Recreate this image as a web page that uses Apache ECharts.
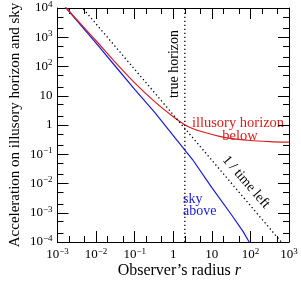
<!DOCTYPE html>
<html><head><meta charset="utf-8">
<script src="https://cdn.jsdelivr.net/npm/echarts@6/dist/echarts.min.js"></script>
<style>html,body{margin:0;padding:0;background:#fff}#c{width:301px;height:284px}</style>
</head><body><div id="c"></div>
<script>
// ---- data ----
const skyR = [0.001, 0.00168, 0.01, 0.0316, 0.1, 0.335, 1, 3.16, 10, 31.6, 63, 93, 100];
const skyA = [22400, 10000, 631, 102, 16.6, 2.63, 0.437, 0.066, 0.0072, 0.00089, 0.00024, 0.0001, 0.00007];
const illR = [0.001, 0.00168, 0.01, 0.0316, 0.1, 0.335, 1, 1.88, 3.16, 5.96, 15.8, 31.6, 100, 316, 1000];
const illA = [22900, 10000, 759, 138, 27.5, 6.17, 1.9, 1.07, 0.76, 0.575, 0.41, 0.347, 0.295, 0.272, 0.26];
const timeR = [0.001, 1, 1000];
const timeA = [102000, 2.24, 0.000049];
const horizonR = [2, 2];
const horizonA = [0.0001, 10000];
const xTicks = [0.001, 0.01, 0.1, 1, 10, 100, 1000];
const xTickLabels = ['10{s|−3}', '10{s|−2}', '10{s|−1}', '1', '10', '10{s|2}', '10{s|3}'];
const yTicks = [0.0001, 0.001, 0.01, 0.1, 1, 10, 100, 1000, 10000];
const yTickLabels = ['10{s|−4}', '10{s|−3}', '10{s|−2}', '10{s|−1}', '1', '10', '10{s|2}', '10{s|3}', '10{s|4}'];

const FONT = 'Liberation Serif';
function minorOf(ticks) {
  const out = [];
  ticks.slice(0, -1).forEach(t => { out.push(t * 2, t * 5); });
  return out;
}
function labelFmt(ticks, labels) {
  return function (v) {
    let best = 0;
    ticks.forEach((t, i) => { if (Math.abs(Math.log10(t) - Math.log10(v)) < Math.abs(Math.log10(ticks[best]) - Math.log10(v))) best = i; });
    return labels[best];
  };
}
const rich = { s: { fontSize: 9, fontFamily: FONT, color: '#000', verticalAlign: 'top', lineHeight: 9 } };
function axis(dim, pos, ticks, labels, major, showLine, extra) {
  const a = {
    type: 'log', logBase: 10, position: pos,
    min: ticks[0], max: ticks[ticks.length - 1],
    splitLine: { show: false },
    axisLine: { show: showLine, onZero: false, lineStyle: { color: '#000', width: 1 } },
    axisTick: { show: true, inside: true, length: major ? 11 : 6, lineStyle: { color: '#000', width: 1 },
      customValues: major ? ticks : minorOf(ticks) },
    axisLabel: { show: false },
    axisPointer: { show: false }
  };
  if (labels) {
    a.axisLabel = { show: true, customValues: ticks, formatter: labelFmt(ticks, labels),
      fontFamily: FONT, fontSize: 13, lineHeight: 16, color: '#000', margin: 5, rich: rich };
  }
  return Object.assign(a, extra || {});
}
const chart = echarts.init(document.getElementById('c'), null, { renderer: 'canvas' });
chart.setOption({
  animation: false,
  backgroundColor: '#fff',
  grid: { left: 49, top: 8, width: 240, height: 240, containLabel: false },
  xAxis: [
    axis('x', 'bottom', xTicks, xTickLabels, true, true, {
      name: 'Observer’s radius {i|r}', nameLocation: 'middle', nameGap: 29, nameMoveOverlap: false,
      nameTextStyle: { fontFamily: FONT, fontSize: 16, color: '#000', verticalAlign: 'middle', padding: [0, 0, 0, 12],
        rich: { i: { fontFamily: FONT, fontSize: 16, fontStyle: 'italic', color: '#000' } } } }),
    axis('x', 'bottom', xTicks, null, false, false),
    axis('x', 'top', xTicks, null, true, true),
    axis('x', 'top', xTicks, null, false, false)
  ],
  yAxis: [
    axis('y', 'left', yTicks, yTickLabels, true, true, {
      name: 'Acceleration on illusory horizon and sky', nameLocation: 'middle', nameGap: 42, nameMoveOverlap: false,
      nameTextStyle: { fontFamily: FONT, fontSize: 15, color: '#000', verticalAlign: 'middle' } }),
    axis('y', 'left', yTicks, null, false, false),
    axis('y', 'right', yTicks, null, true, true),
    axis('y', 'right', yTicks, null, false, false)
  ],
  series: [
    { type: 'line', name: 'sky above', data: skyR.map((r, i) => [r, skyA[i]]), showSymbol: false, symbol: 'none',
      lineStyle: { color: '#1a1adc', width: 1.2 }, clip: true, xAxisIndex: 0, yAxisIndex: 0 },
    { type: 'line', name: 'illusory horizon below', data: illR.map((r, i) => [r, illA[i]]), showSymbol: false, symbol: 'none',
      smooth: 0.3, lineStyle: { color: '#d81e1e', width: 1.2 }, clip: true, xAxisIndex: 0, yAxisIndex: 0 },
    { type: 'line', name: '1 / time left', data: timeR.map((r, i) => [r, timeA[i]]), showSymbol: false, symbol: 'none',
      lineStyle: { color: '#000', width: 1.3, type: [1.3, 2.7] }, clip: true, xAxisIndex: 0, yAxisIndex: 0 },
    { type: 'line', name: 'true horizon', data: horizonR.map((r, i) => [r, horizonA[i]]), showSymbol: false, symbol: 'none',
      lineStyle: { color: '#000', width: 1.3, type: [1.3, 2.7] }, clip: true, xAxisIndex: 0, yAxisIndex: 0 }
  ],
  graphic: [
    { type: 'text', x: 174, y: 64, rotation: Math.PI / 2,
      style: { text: 'true horizon', fontFamily: FONT, fontSize: 14, fill: '#000', align: 'center', verticalAlign: 'middle' } },
    { type: 'text', x: 238, y: 123,
      style: { text: 'illusory horizon', fontFamily: FONT, fontSize: 14.5, fill: '#d81e1e', align: 'center', verticalAlign: 'middle' } },
    { type: 'text', x: 240, y: 136,
      style: { text: 'below', fontFamily: FONT, fontSize: 14.5, fill: '#d81e1e', align: 'center', verticalAlign: 'middle' } },
    { type: 'text', x: 183, y: 199,
      style: { text: 'sky', fontFamily: FONT, fontSize: 14, fill: '#1a1adc', align: 'left', verticalAlign: 'middle' } },
    { type: 'text', x: 183, y: 211,
      style: { text: 'above', fontFamily: FONT, fontSize: 14, fill: '#1a1adc', align: 'left', verticalAlign: 'middle' } },
    { type: 'text', x: 246, y: 182, rotation: -49 * Math.PI / 180,
      style: { text: '1 / time left', fontFamily: FONT, fontSize: 14, fill: '#000', align: 'center', verticalAlign: 'middle' } }
  ]
});
</script></body></html>
